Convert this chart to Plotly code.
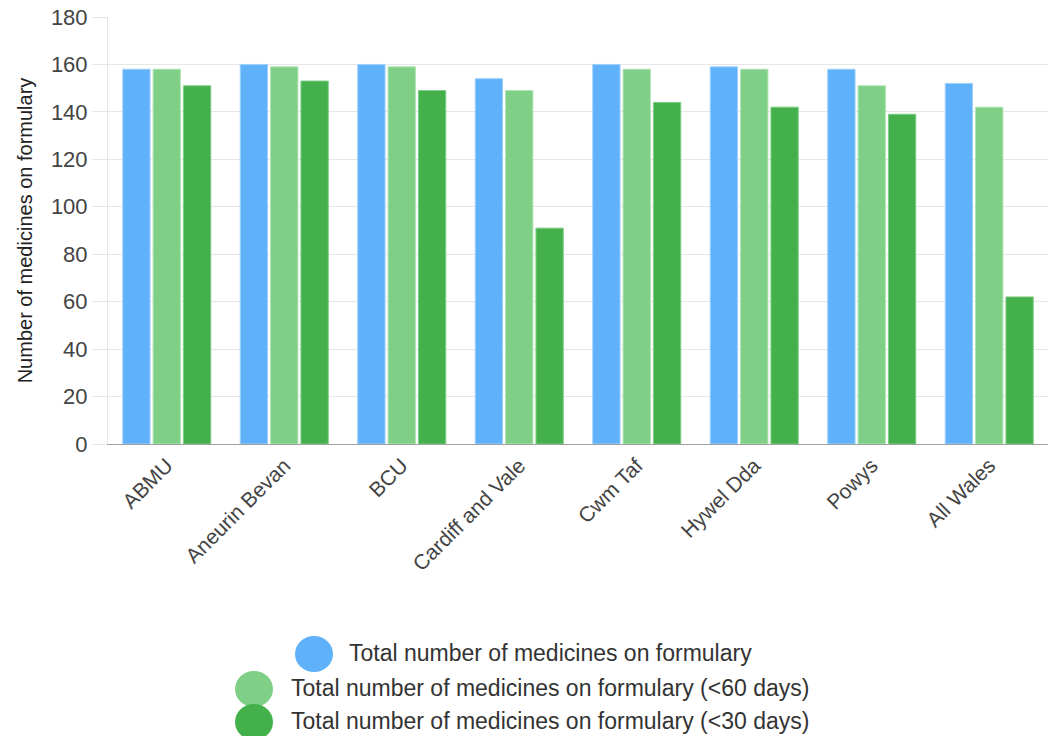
import plotly.graph_objects as go

categories = ["ABMU", "Aneurin Bevan", "BCU", "Cardiff and Vale", "Cwm Taf",
              "Hywel Dda", "Powys", "All Wales"]
total = [158, 160, 160, 154, 160, 159, 158, 152]
lt60 = [158, 159, 159, 149, 158, 158, 151, 142]
lt30 = [151, 153, 149, 91, 144, 142, 139, 62]
series_names = ["Total number of medicines on formulary",
                "Total number of medicines on formulary (<60 days)",
                "Total number of medicines on formulary (<30 days)"]
colors = ["#5fb2f9", "#7fd086", "#43b04c"]
borders = ["#9fd0fb", "#b0e3b4", "#7fcc85"]
y_ticks = [0, 20, 40, 60, 80, 100, 120, 140, 160, 180]

W, H = 1049, 736
L, R, T, B = 108, 1048, 17, 444
FONT = "Liberation Sans, Arial, sans-serif"

fig = go.Figure()
for name, vals, c, bc in zip(series_names, [total, lt60, lt30], colors, borders):
    fig.add_trace(go.Bar(x=categories, y=vals, name=name,
                         marker=dict(color=c, line=dict(color=bc, width=1)),
                         showlegend=False))

def px_x(p):
    return (p - L) / (R - L)

def px_y(p):
    return (B - p) / (B - T)

shapes = []
annotations = []
legend_rows = [(314, 654, 347), (254, 689, 289), (254, 722, 289)]
for (cx, cy, tx), name, c in zip(legend_rows, series_names, colors):
    shapes.append(dict(type="circle", xref="paper", yref="paper",
                       xsizemode="pixel", ysizemode="pixel",
                       xanchor=px_x(cx), yanchor=px_y(cy),
                       x0=-19, x1=19, y0=-18, y1=18,
                       fillcolor=c, line=dict(width=0), layer="above"))
    annotations.append(dict(text=name, xref="paper", yref="paper",
                            x=px_x(tx), y=px_y(cy - 1), xanchor="left", yanchor="middle",
                            showarrow=False, font=dict(family=FONT, size=23, color="#333")))

fig.update_layout(
    width=W, height=H,
    margin=dict(l=L, r=W - R, t=T, b=H - B, pad=0),
    paper_bgcolor="white", plot_bgcolor="white",
    barmode="group", bargap=0.225, bargroupgap=0.1,
    font=dict(family=FONT, size=16, color="#444"),
    shapes=shapes, annotations=annotations,
    showlegend=False,
)
fig.update_xaxes(
    tickangle=-45, tickfont=dict(size=21, color="#444"),
    showline=True, linecolor="#a0a0a0", linewidth=1,
    showgrid=False, ticks="", fixedrange=True,
)
fig.update_yaxes(
    range=[0, 180], tickvals=y_ticks, ticktext=[str(v) for v in y_ticks],
    showgrid=True, gridcolor="#e6e6e6", gridwidth=1,
    ticks="outside", ticklen=15, tickcolor="#e6e6e6",
    showline=True, linecolor="#e6e6e6",
    zeroline=False,
    tickfont=dict(size=22, color="#444"),
    title=dict(text="Number of medicines on formulary", font=dict(size=20, color="#222"), standoff=12),
)

fig.write_html("out.html")
